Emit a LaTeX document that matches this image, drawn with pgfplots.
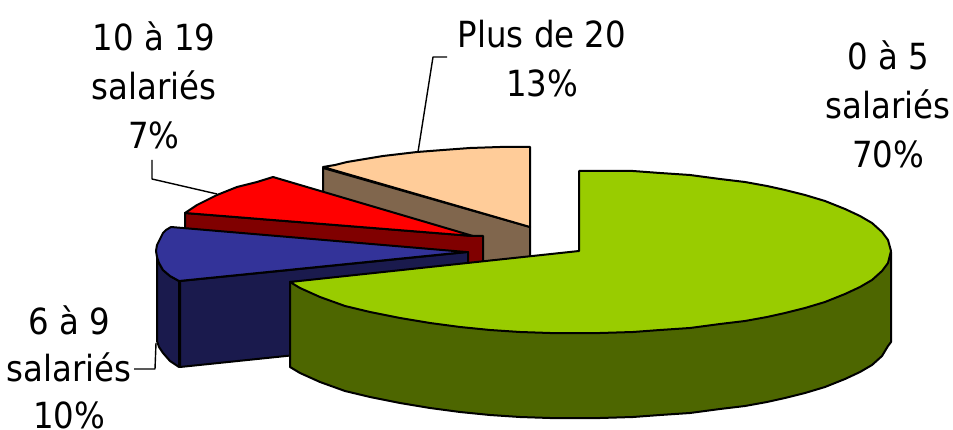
\documentclass[border=0pt]{standalone}
\usepackage{fontspec}
\setmainfont{DejaVu Sans Condensed}
\usepackage{pgfplots}
\pgfplotsset{compat=1.18}
\definecolor{cgreen}{HTML}{99CC00}
\definecolor{cgreend}{HTML}{4D6600}
\definecolor{cbeige}{HTML}{FFCC99}
\definecolor{cbeiged}{HTML}{80664D}
\definecolor{cred}{HTML}{FF0000}
\definecolor{credd}{HTML}{800000}
\definecolor{cblue}{HTML}{333399}
\definecolor{cblued}{HTML}{1A1A4D}
\begin{document}
\begin{tikzpicture}
\useasboundingbox (0,0) rectangle (953pt,430pt);
\begin{axis}[
  at={(0,0)}, anchor=south west,
  scale only axis, width=953pt, height=430pt,
  xmin=0, xmax=953, ymin=0, ymax=430, y dir=reverse,
  hide axis, clip=false,
  every axis plot/.append style={draw=black, line width=2pt, line join=round, mark=none},
]
% leader lines
\addplot[fill=none, line width=1.4pt] coordinates {(418,152) (433,57) (447,57)};
\addplot[fill=none, line width=1.4pt] coordinates {(152,160) (152,179) (217,194)};
\addplot[fill=none, line width=1.4pt] coordinates {(156,343) (155,369) (134,369)};
% Plus de 20 : 13 %
\addplot[fill=cbeiged] coordinates {(323,168) (530,227) (530,257) (450,265) (323,200)} --cycle;
\addplot[fill=cbeige] coordinates {(530,227) (530,147) (500,147) (470,148) (443,150) (417,152) (400,154) (383,156) (365,159) (347,162) (335,165) (323,167)} --cycle;
% 10 a 19 : 7 %
\addplot[fill=credd] coordinates {(185,213) (185,245) (470,270) (483,263) (483,236) (473,236)} --cycle;
\addplot[fill=cred] coordinates {(473,236) (273,177) (265,179.5) (257,182) (247,184.5) (237,187) (227,191) (217,195) (207,200) (197,205) (191,209) (185,213)} --cycle;
% 6 a 9 : 10 %
\addplot[fill=cblued] coordinates {(180,281) (468,252) (468,262) (440,340) (180,367)} --cycle;
\addplot[fill=cblued] coordinates {(157,257) (159,263) (163,270) (170,276) (179,281) (179,367) (170,361) (163,353) (159,347) (157,341)} --cycle;
\addplot[fill=cblue] coordinates {(466,252) (171,227) (166,230) (163,233) (160,239) (157,245) (156,251) (157,257) (159,263) (163,270) (170,276) (179,281)} --cycle;
% 0 a 5 : 70 %
\addplot[fill=cgreend] coordinates {(290,282) (290,367) (300,373) (320,382) (345,391) (370,397) (400,403) (430,408) (460,412) (490,415) (520,417) (550,418) (579,418) (600,418) (633,417) (660,415) (690,413) (720,409) (745,406) (767,402) (785,398) (805,393) (825,387) (845,379) (860,372) (872,365) (882,356) (888,346) (891,342) (891,252)} --cycle;
\addplot[fill=cgreen] coordinates {(579,251) (579,171) (600,171) (633,171) (660,173) (690,175) (720,179) (745,182) (767,186) (785,190) (805,195) (825,201) (845,209) (860,216) (872,223) (882,232) (888,240) (891,251) (888,263) (882,271) (872,280) (860,287) (845,294) (825,302) (805,308) (785,313) (767,317) (745,321) (720,324) (690,328) (660,330) (633,332) (600,333) (579,333) (550,333) (520,332) (490,330) (460,327) (430,323) (400,318) (370,312) (345,306) (320,297) (300,288) (290,282)} --cycle;
% labels
\tikzset{lab/.style={align=center, font=\fontsize{36}{49}\selectfont, inner sep=0pt}}
\node[lab] at (axis cs:154,85) {10 à 19\\salariés\\7\%};
\node[lab] at (axis cs:542,59) {Plus de 20\\13\%};
\node[lab] at (axis cs:888,104) {0 à 5\\salariés\\70\%};
\node[lab, font=\fontsize{36}{47}\selectfont] at (axis cs:69,367) {6 à 9\\salariés\\10\%};
\end{axis}
\end{tikzpicture}
\end{document}
